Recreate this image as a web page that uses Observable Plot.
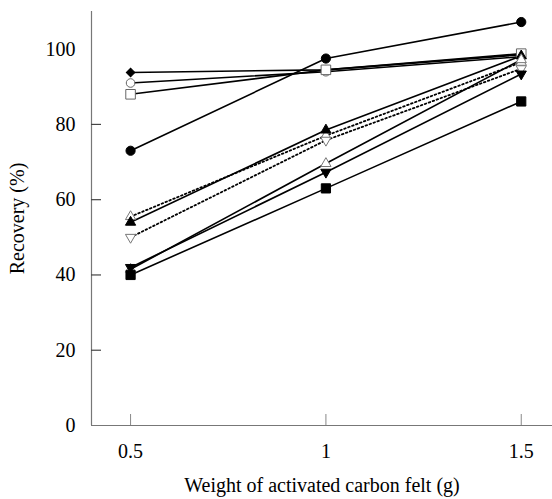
<!DOCTYPE html>
<html>
<head>
<meta charset="utf-8">
<script src="https://cdn.jsdelivr.net/npm/d3@7"></script>
<script src="https://cdn.jsdelivr.net/npm/@observablehq/plot@0.6"></script>
<style>
  html, body { margin: 0; padding: 0; background: #fff; }
  #chart svg { display: block; }
</style>
</head>
<body>
<div id="chart"></div>
<script>
// ---- data ----
const weights = [0.5, 1, 1.5];
const yTickValues = [0, 20, 40, 60, 80, 100];
const xTickValues = [0.5, 1, 1.5];
const xTickLabels = ["0.5", "1", "1.5"];
const xTitle = "Weight of activated carbon felt (g)";
const yTitle = "Recovery (%)";

const filledDiamond  = [93.8, 94.5, 98.5];
const openCircle     = [91.0, 94.0, 98.0];
const openSquare     = [88.0, 94.5, 98.8];
const filledCircle   = [73.0, 97.5, 107.2];
const openTriUpDot   = [55.5, 77.0, 96.5];
const filledTriUp    = [54.0, 78.5, 98.2];
const openTriDownDot = [50.0, 75.8, 94.8];
const openTriUp      = [41.5, 69.6, 97.2];
const filledTriDown  = [42.0, 67.3, 93.4];
const filledSquare   = [40.0, 63.0, 86.1];

// ---- styles (separate from data) ----
const series = [
  {v: filledDiamond,  symbol: "square",   rotate: 45,  fill: "black", stroke: "black", r: 3.4, dash: null},
  {v: openCircle,     symbol: "circle",   rotate: 0,   fill: "white", stroke: "#666",  r: 4.3, dash: null},
  {v: openSquare,     symbol: "square",   rotate: 0,   fill: "white", stroke: "#666",  r: 5.4, dash: null},
  {v: filledCircle,   symbol: "circle",   rotate: 0,   fill: "black", stroke: "black", r: 4.6, dash: null},
  {v: openTriUpDot,   symbol: "triangle", rotate: 0,   fill: "white", stroke: "#777",  r: 3.8, dash: "1.6,2.6"},
  {v: filledTriUp,    symbol: "triangle", rotate: 0,   fill: "black", stroke: "black", r: 3.8, dash: null},
  {v: openTriDownDot, symbol: "triangle", rotate: 180, fill: "white", stroke: "#777",  r: 3.8, dash: "1.6,2.6"},
  {v: openTriUp,      symbol: "triangle", rotate: 0,   fill: "white", stroke: "#777",  r: 3.8, dash: null},
  {v: filledTriDown,  symbol: "triangle", rotate: 180, fill: "black", stroke: "black", r: 3.8, dash: null},
  {v: filledSquare,   symbol: "square",   rotate: 0,   fill: "black", stroke: "black", r: 5.2, dash: null}
];

const xDomain = [0.4, 1.58];
const yDomain = [0, 110];

const marks = [];
// axis lines
marks.push(Plot.ruleX([xDomain[0]], {stroke: "#777", strokeWidth: 1.2}));
marks.push(Plot.ruleY([yDomain[0]], {stroke: "#777", strokeWidth: 1.2}));
// inward ticks
marks.push(Plot.axisY(yTickValues.filter(d => d > 0 && d < 100), {tickSize: -10, text: null, stroke: "#444", strokeWidth: 1.2}));
marks.push(Plot.axisX(xTickValues, {tickSize: -11, text: null, stroke: "#888", strokeWidth: 1}));
// tick labels
marks.push(Plot.axisY(yTickValues, {tickSize: 0, tickPadding: 16, fontSize: 20, label: null}));
marks.push(Plot.axisX(xTickValues, {tickSize: 0, tickPadding: 18, fontSize: 20, label: null,
  tickFormat: (d) => xTickLabels[xTickValues.indexOf(d)]}));
// axis titles
marks.push(Plot.axisX({ticks: [], tickSize: 0, label: xTitle, labelAnchor: "center", labelOffset: 66, fontSize: 20, labelArrow: "none"}));
marks.push(Plot.axisY({ticks: [], tickSize: 0, label: yTitle, labelAnchor: "center", labelOffset: 82, fontSize: 20, labelArrow: "none"}));

for (const s of series) {
  const rows = weights.map((w, i) => ({x: w, y: s.v[i]}));
  marks.push(Plot.line(rows, {x: "x", y: "y", stroke: "black", strokeWidth: s.dash ? 1.8 : 1.6, strokeDasharray: s.dash ?? undefined}));
}
for (const s of series) {
  const rows = weights.map((w, i) => ({x: w, y: s.v[i]}));
  marks.push(Plot.dot(rows, {x: "x", y: "y", symbol: () => s.symbol, r: s.r, rotate: s.rotate, fill: s.fill, stroke: s.stroke, strokeWidth: 1}));
}

const chart = Plot.plot({
  width: 552,
  height: 499,
  marginLeft: 91,
  marginRight: 0,
  marginTop: 11,
  marginBottom: 74,
  style: {fontFamily: "'Liberation Serif', 'Times New Roman', serif", fontSize: "20px", color: "black", background: "white"},
  x: {domain: xDomain, label: null},
  y: {domain: yDomain, label: null},
  symbol: {type: "identity"},
  marks
});
document.getElementById("chart").appendChild(chart);
</script>
</body>
</html>
